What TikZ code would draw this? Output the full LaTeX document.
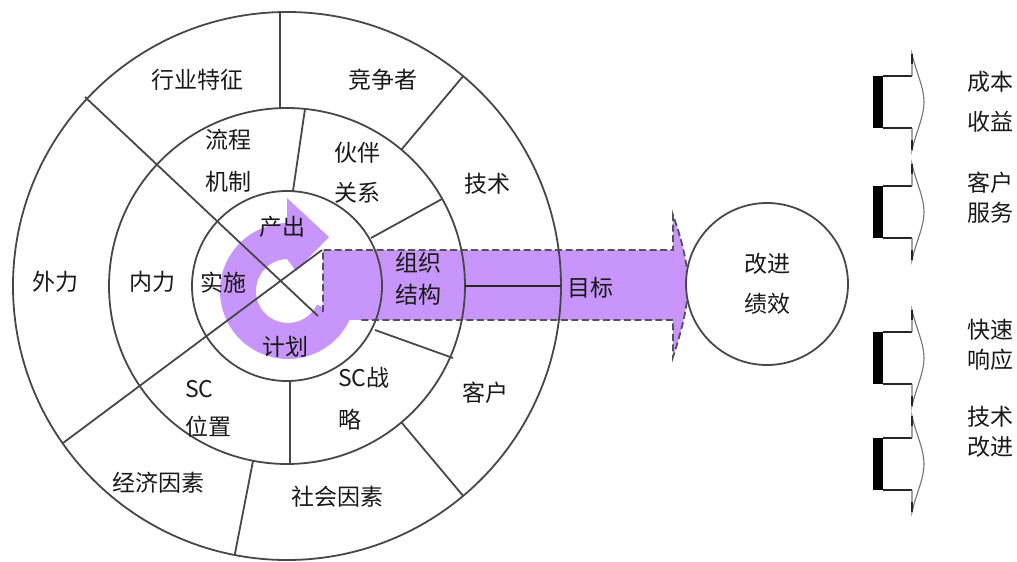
\documentclass[tikz,border=0pt]{standalone}
\usepackage{fontspec}
\setmainfont{Noto Sans CJK SC}
\usetikzlibrary{calc}
\definecolor{pur}{RGB}{200,150,250}
\definecolor{dashc}{RGB}{85,80,90}
\begin{document}
\begin{tikzpicture}[x=1pt,y=-1pt,
  lbl/.style={font=\fontsize{23}{30}\selectfont, inner sep=0pt, align=center, text=black!90},
  lbll/.style={lbl, align=left, anchor=west},
  ln/.style={draw=black!72, line width=1.8pt},
  dashline/.style={draw=dashc, line width=1.8pt, dash pattern=on 7pt off 3.5pt},
  thinln/.style={draw=black!85, line width=1.1pt},
]
\useasboundingbox (0,0) rectangle (1017,562);
\coordinate (C) at (287,286);
\coordinate (R) at (288,291);

% circular purple arrow
\fill[pur] ($(R)+(25:68)$) arc[start angle=25,end angle=270,radius=68]
  -- ($(R)+(270:32)$) arc[start angle=270,end angle=25,radius=32] -- cycle;
\fill[pur] (287,198) -- (329,237) -- (296,271) -- (287,259) -- cycle;

% big goal arrow
\fill[pur] (323,250) rectangle (673,320);
\fill[pur] (673,215) .. controls (682,240) and (688,265) .. (688,285)
  .. controls (688,305) and (682,330) .. (673,357) -- cycle;
\draw[dashline] (323,312) -- (323,250) -- (673,250) -- (673,215)
  .. controls (682,240) and (688,265) .. (688,285)
  .. controls (688,305) and (682,330) .. (673,357) -- (673,320) -- (360,320);

% rings
\draw[ln] (C) circle[radius=274];
\draw[ln] (C) circle[radius=178];
\draw[ln] (C) circle[radius=95];

% outer ring dividers
\draw[ln] (280,12) -- (280,108);
\draw[ln] ($(C)+(-50:178)$) -- ($(C)+(-50:274)$);
\draw[thinln] ($(C)+(0:178)$) -- ($(C)+(0:274)$);
\draw[ln] ($(C)+(50:178)$) -- ($(C)+(50:274)$);
\draw[ln] ($(C)+(101:178)$) -- ($(C)+(101:274)$);
% diagonals
\draw[ln] (63,443) -- (322,250);
\draw[ln] (85,97) -- (318,316);
% middle ring dividers
\draw[ln] (305,109) -- (293,191);
\draw[ln] (371,238) -- (442,199);
\draw[ln] (375,330) -- (453,358);
\draw[ln] (290,381) -- (290,464);

% labels
\node[lbl] (hy) at (197,80) {行业特征};
\node[lbl] (jz) at (383,80) {竞争者};
\node[lbl] (lc) at (228,161) {流程\\[12pt]机制};
\node[lbl] (hb) at (357,173) {伙伴\\[10pt]关系};
\node[lbl] (js) at (487,184) {技术};
\node[lbl] (cc) at (282,227) {产出};
\node[lbl] (wl) at (55,282) {外力};
\node[lbl] (nl) at (152,282) {内力};
\node[lbl] (ss) at (223,283) {实施};
\node[lbl] (zz) at (418,279) {组织\\[2pt]结构};
\node[lbl] (mb) at (590,288) {目标};
\node[lbl] (jh) at (285,347) {计划};
\node[lbll] (scw) at (185,409) {SC\\[8pt]位置};
\node[lbll] (scz) at (338,399) {SC战\\[12pt]略};
\node[lbl] (kh) at (485,393) {客户};
\node[lbl] (jj) at (158,483) {经济因素};
\node[lbl] (sh) at (337,497) {社会因素};

% goal circle
\node[circle, draw=black!72, line width=1.8pt, fill=white, minimum size=162pt,
  inner sep=0pt, font=\fontsize{23}{30}\selectfont, align=center, text=black!90]
  (gj) at (767,284) {改进\\[10pt]绩效};

% right icons
\foreach \c in {102,212,358,464} {
  \fill[black] (873,\c-26) rectangle (883,\c+26);
  \draw[thinln] (883,\c-26) -- (912,\c-26);
  \draw[thinln] (883,\c+26) -- (912,\c+26);
  \draw[draw=black!55, line width=1.1pt] (912,\c-26) -- (912,\c-48)
    .. controls (916,\c-30) and (924,\c-15) .. (924,\c)
    .. controls (924,\c+15) and (916,\c+30) .. (912,\c+48) -- (912,\c+26);
  \draw[draw=black!85, line width=2.5pt] (912,\c-48) -- (912,\c-38);
  \draw[draw=black!85, line width=2.5pt] (912,\c+48) -- (912,\c+38);
}
\node[lbll] (r1) at (967,102) {成本\\[10pt]收益};
\node[lbll] (r2) at (967,198) {客户\\服务};
\node[lbll] (r3) at (967,345) {快速\\响应};
\node[lbll] (r4) at (967,432) {技术\\改进};
\end{tikzpicture}
\end{document}
